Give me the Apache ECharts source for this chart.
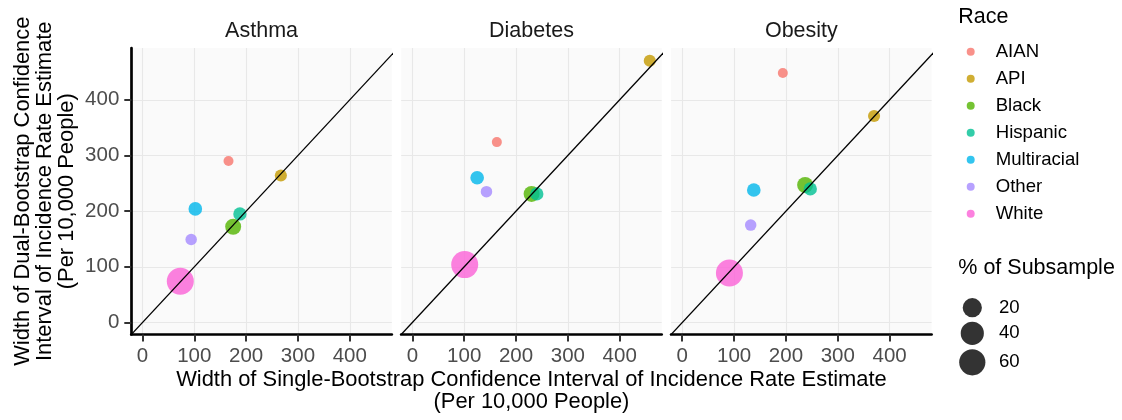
<!DOCTYPE html>
<html><head><meta charset="utf-8">
<script src="https://cdn.jsdelivr.net/npm/echarts@6/dist/echarts.min.js"></script>
<style>html,body{margin:0;padding:0;background:#fff}#c{width:1122px;height:420px}</style>
</head><body><div id="c"></div>
<script>
// ---- data ----
const panels = ['Asthma', 'Diabetes', 'Obesity'];
const races = ['AIAN', 'API', 'Black', 'Hispanic', 'Multiracial', 'Other', 'White'];
const raceColors = ['#F8766D', '#C49A00', '#53B400', '#00C094', '#00B6EB', '#A58AFF', '#FB61D7'];
const pctSubsample = [1, 2, 9, 3.5, 4, 1.5, 66];
// single-bootstrap CI width (x) and dual-bootstrap CI width (y), per 10,000 people
const asthmaSingle   = [166, 267, 175, 188, 102, 94, 73];
const asthmaDual     = [290, 264, 172, 195, 204, 149, 74];
const diabetesSingle = [163, 458, 230, 240, 125, 143, 101];
const diabetesDual   = [324, 470, 231, 231, 260, 235, 104];
const obesitySingle  = [194, 370, 237, 247, 138, 132, 91];
const obesityDual    = [448, 371, 247, 240, 238, 175, 89];
const tickValues = [0, 100, 200, 300, 400];
const sizeBreaks = [20, 40, 60];
const diagLine = [-100, 600];

const singleByPanel = [asthmaSingle, diabetesSingle, obesitySingle];
const dualByPanel = [asthmaDual, diabetesDual, obesityDual];

// ---- layout / style ----
const FONT = "'Liberation Sans', Arial, Helvetica, sans-serif";
const gridLefts = [131.3, 401.2, 671.1];
const gridW = 260.5, gridTop = 48, gridH = 286.5;
const xRange = [-21.5, 481], yRange = [-21.5, 493];
const pctMin = 1, pctMax = 66, dMin = 10, dMax = 27;
function diam(p) { return dMin + (dMax - dMin) * Math.sqrt(Math.max(0, (p - pctMin) / (pctMax - pctMin))); }

const grids = [], xAxes = [], yAxes = [], series = [], graphics = [];
panels.forEach((name, i) => {
  grids.push({ left: gridLefts[i], top: gridTop, width: gridW, height: gridH,
    show: true, backgroundColor: '#FAFAFA', borderWidth: 0, containLabel: false });
  xAxes.push({ type: 'value', gridIndex: i, min: xRange[0], max: xRange[1],
    axisLine: { show: true, onZero: false, lineStyle: { color: '#000', width: 2.7 } },
    axisTick: { show: true, customValues: tickValues, length: 7, lineStyle: { color: '#333', width: 2 } },
    axisLabel: { show: true, customValues: tickValues, margin: 11, color: '#4D4D4D', fontSize: 20.5, fontFamily: FONT },
    splitLine: { show: true, lineStyle: { color: '#E8E8E8', width: 1.1 } } });
  yAxes.push({ type: 'value', gridIndex: i, min: yRange[0], max: yRange[1],
    axisLine: { show: i === 0, onZero: false, lineStyle: { color: '#000', width: 2.7 } },
    axisTick: { show: i === 0, customValues: tickValues, length: 7, lineStyle: { color: '#333', width: 2 } },
    axisLabel: { show: i === 0, customValues: tickValues, margin: 12, color: '#4D4D4D', fontSize: 20.5, fontFamily: FONT },
    splitLine: { show: true, lineStyle: { color: '#E8E8E8', width: 1.1 } } });
  races.forEach((r, k) => {
    series.push({ type: 'scatter', name: r, xAxisIndex: i, yAxisIndex: i,
      data: [[singleByPanel[i][k], dualByPanel[i][k], pctSubsample[k]]],
      symbol: 'circle', symbolSize: v => diam(v[2]),
      itemStyle: { color: raceColors[k], opacity: 0.8 }, z: 2 + k * 0.01 });
  });
  series.push({ type: 'line', name: 'diag' + i, xAxisIndex: i, yAxisIndex: i,
    data: [[diagLine[0], diagLine[0]], [diagLine[1], diagLine[1]]], clip: true,
    showSymbol: false, symbol: 'none', lineStyle: { color: '#000', width: 1.3 }, z: 5, silent: true });
  graphics.push({ type: 'text', x: gridLefts[i] + gridW / 2, y: 31,
    style: { text: name, fill: '#1A1A1A', font: `21.5px ${FONT}`, textAlign: 'center', textVerticalAlign: 'middle' } });
});

// axis titles
graphics.push({ type: 'text', x: 45, y: gridTop + gridH / 2, rotation: Math.PI / 2,
  style: { text: 'Width of Dual-Bootstrap Confidence\nInterval of Incidence Rate Estimate\n(Per 10,000 People)',
    fill: '#000', font: `21.9px ${FONT}`, lineHeight: 21.8, textAlign: 'center', textVerticalAlign: 'middle' } });
graphics.push({ type: 'text', x: (gridLefts[0] + gridLefts[2] + gridW) / 2, y: 391,
  style: { text: 'Width of Single-Bootstrap Confidence Interval of Incidence Rate Estimate\n(Per 10,000 People)',
    fill: '#000', font: `21.9px ${FONT}`, lineHeight: 21.8, textAlign: 'center', textVerticalAlign: 'middle' } });

// legend titles
graphics.push({ type: 'text', x: 958.3, y: 17,
  style: { text: 'Race', fill: '#000', font: `21.5px ${FONT}`, textAlign: 'left', textVerticalAlign: 'middle' } });
graphics.push({ type: 'text', x: 958.3, y: 268,
  style: { text: '% of Subsample', fill: '#000', font: `21.5px ${FONT}`, textAlign: 'left', textVerticalAlign: 'middle' } });
// size legend
const sizeLegendY = [307.7, 333.3, 362.3];
sizeBreaks.forEach((b, j) => {
  graphics.push({ type: 'circle', shape: { cx: 972.3, cy: sizeLegendY[j], r: diam(b) / 2 },
    style: { fill: 'rgba(0,0,0,0.8)' } });
  graphics.push({ type: 'text', x: 999, y: sizeLegendY[j],
    style: { text: String(b), fill: '#000', font: `18.6px ${FONT}`, textAlign: 'left', textVerticalAlign: 'middle' } });
});

const chart = echarts.init(document.getElementById('c'), null, { renderer: 'canvas' });
chart.setOption({
  animation: false,
  backgroundColor: '#fff',
  grid: grids, xAxis: xAxes, yAxis: yAxes, series: series,
  legend: { show: true, data: races, orient: 'vertical', left: 966.7, top: 41.7, padding: 0,
    icon: 'circle', itemWidth: 40, itemHeight: 8, itemGap: 7, selectedMode: false,
    textStyle: { fontSize: 18.6, lineHeight: 20, color: '#000', fontFamily: FONT } },
  graphic: graphics
});
</script></body></html>
